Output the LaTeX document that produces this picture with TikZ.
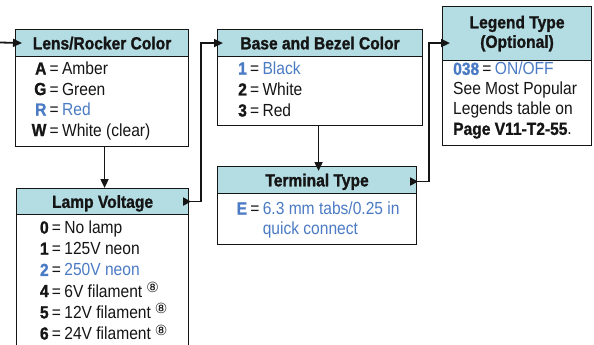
\documentclass[tikz,border=0pt]{standalone}
\usepackage{fontspec}
\setmainfont{Liberation Sans}[FakeStretch=0.89, BoldFeatures={FakeBold=1.2}]
\newfontfamily\dejavu{DejaVu Sans}
\usetikzlibrary{arrows.meta,calc}
\definecolor{hdr}{HTML}{B3DDE3}
\definecolor{blu}{HTML}{4B7BC4}
\definecolor{ink}{HTML}{151515}
\newcommand{\eqs}{\hspace{3.3pt}=\hspace{3.3pt}}
\newcommand{\cnote}{\hspace{4pt}\raisebox{4.5pt}{\dejavu\fontsize{14}{14}\selectfont ⑧}}
\begin{document}
\begin{tikzpicture}[x=1pt,y=-1pt,
  font=\fontsize{17.5}{20.5}\selectfont, text=ink,
  hdrbox/.style={draw=ink, line width=1.1pt, fill=hdr, inner sep=0pt, anchor=north west,
    font=\fontsize{17.5}{20.5}\selectfont\bfseries, text height=12.6pt, text depth=0pt},
  bodybox/.style={draw=ink, line width=1.1pt, fill=white, inner sep=0pt, anchor=north west},
  txt/.style={anchor=north west, inner sep=0pt, align=left},
  arr/.style={line width=1.8pt, draw=ink, -{Triangle[length=9pt,width=8pt]}},
  tabarr/.style={line width=1.8pt, draw=ink, {Triangle[reversed,length=8pt,width=8pt]}-{Triangle[length=9pt,width=8pt]}}]
\useasboundingbox (0,0) rectangle (594,345);
\clip (0,0) rectangle (594,345);
% Lens/Rocker Color
\node[bodybox, minimum width=173pt, minimum height=90pt] (Lb) at (15,56) {};
\node[hdrbox, minimum width=173pt, minimum height=27pt] (Lh) at (15,29) {Lens/Rocker Color};
\node[txt] (Lt) at (31.5,60) {\begin{tabular}{@{}r@{}l@{}}
\textbf{A} & \eqs Amber\\
\textbf{G} & \eqs Green\\
\textcolor{blu}{\textbf{R}} & \eqs\textcolor{blu}{Red}\\
\textbf{W} & \eqs White (clear)
\end{tabular}};
% Lamp Voltage
\node[bodybox, minimum width=172pt, minimum height=145pt] (Vb) at (16,214) {};
\node[hdrbox, minimum width=172pt, minimum height=26pt] (Vh) at (16,188) {Lamp Voltage};
\node[txt, font=\fontsize{17.5}{21.2}\selectfont] (Vt) at (39.8,218.5) {\begin{tabular}{@{}r@{}l@{}}
\textbf{0} & \eqs No lamp\\
\textbf{1} & \eqs 125V neon\\
\textcolor{blu}{\textbf{2}} & \eqs\textcolor{blu}{250V neon}\\
\textbf{4} & \eqs 6V filament\cnote\\
\textbf{5} & \eqs 12V filament\cnote\\
\textbf{6} & \eqs 24V filament\cnote
\end{tabular}};
% Base and Bezel Color
\node[bodybox, minimum width=205pt, minimum height=69pt] (Bb) at (217,56) {};
\node[hdrbox, minimum width=205pt, minimum height=27pt] (Bh) at (217,29) {Base and Bezel Color};
\node[txt, font=\fontsize{17.5}{21}\selectfont] (Bt) at (238,59.6) {\begin{tabular}{@{}r@{}l@{}}
\textcolor{blu}{\textbf{1}} & \eqs\textcolor{blu}{Black}\\
\textbf{2} & \eqs White\\
\textbf{3} & \eqs Red
\end{tabular}};
% Terminal Type
\node[bodybox, minimum width=199pt, minimum height=51pt] (Tb) at (217,193) {};
\node[hdrbox, minimum width=199pt, minimum height=27pt] (Th) at (217,166) {Terminal Type};
\node[txt, font=\fontsize{17.5}{20}\selectfont] (Tt) at (236.5,200.3) {\begin{tabular}{@{}r@{}l@{}}
\textcolor{blu}{\textbf{E}} & \eqs\textcolor{blu}{6.3 mm tabs/0.25 in}\\
 & \phantom{\eqs}\textcolor{blu}{quick connect}
\end{tabular}};
% Legend Type
\node[bodybox, minimum width=149pt, minimum height=85pt] (Gb) at (442,60) {};
\node[hdrbox, minimum width=149pt, minimum height=54pt, align=center,
  font=\fontsize{17.5}{19.5}\selectfont\bfseries, text height=, text depth=] (Gh) at (442,6) {Legend Type\\(Optional)};
\node[txt, font=\fontsize{17.5}{20}\selectfont] (Gt) at (453,62) {\textcolor{blu}{\textbf{038}}\eqs\textcolor{blu}{ON/OFF}\\
See Most Popular\\
Legends table on\\
\textbf{Page V11-T2-55}.};
% connectors
\coordinate (in0) at (0,42.5);
\draw[arr] (in0) -- ($(Lh.west)+(7,0)$);
\draw[arr] ($(Lb.south)+(2.5,0)$) coordinate (a1) -- (a1 |- Vh.north);
\draw[tabarr] ($(Vh.east)+(-6,0)$) -- ++(18,0) |- ($(Bh.west)+(6,0)$);
\draw[arr] ($(Bb.south)+(-1.5,0)$) coordinate (a2) -- ($(a2 |- Th.north)+(0,5)$);
\draw[tabarr] ($(Th.east)+(-7,1.5)$) -- ++(19,0) |- ($(Gh.west)+(8,9.5)$);
\end{tikzpicture}
\end{document}
